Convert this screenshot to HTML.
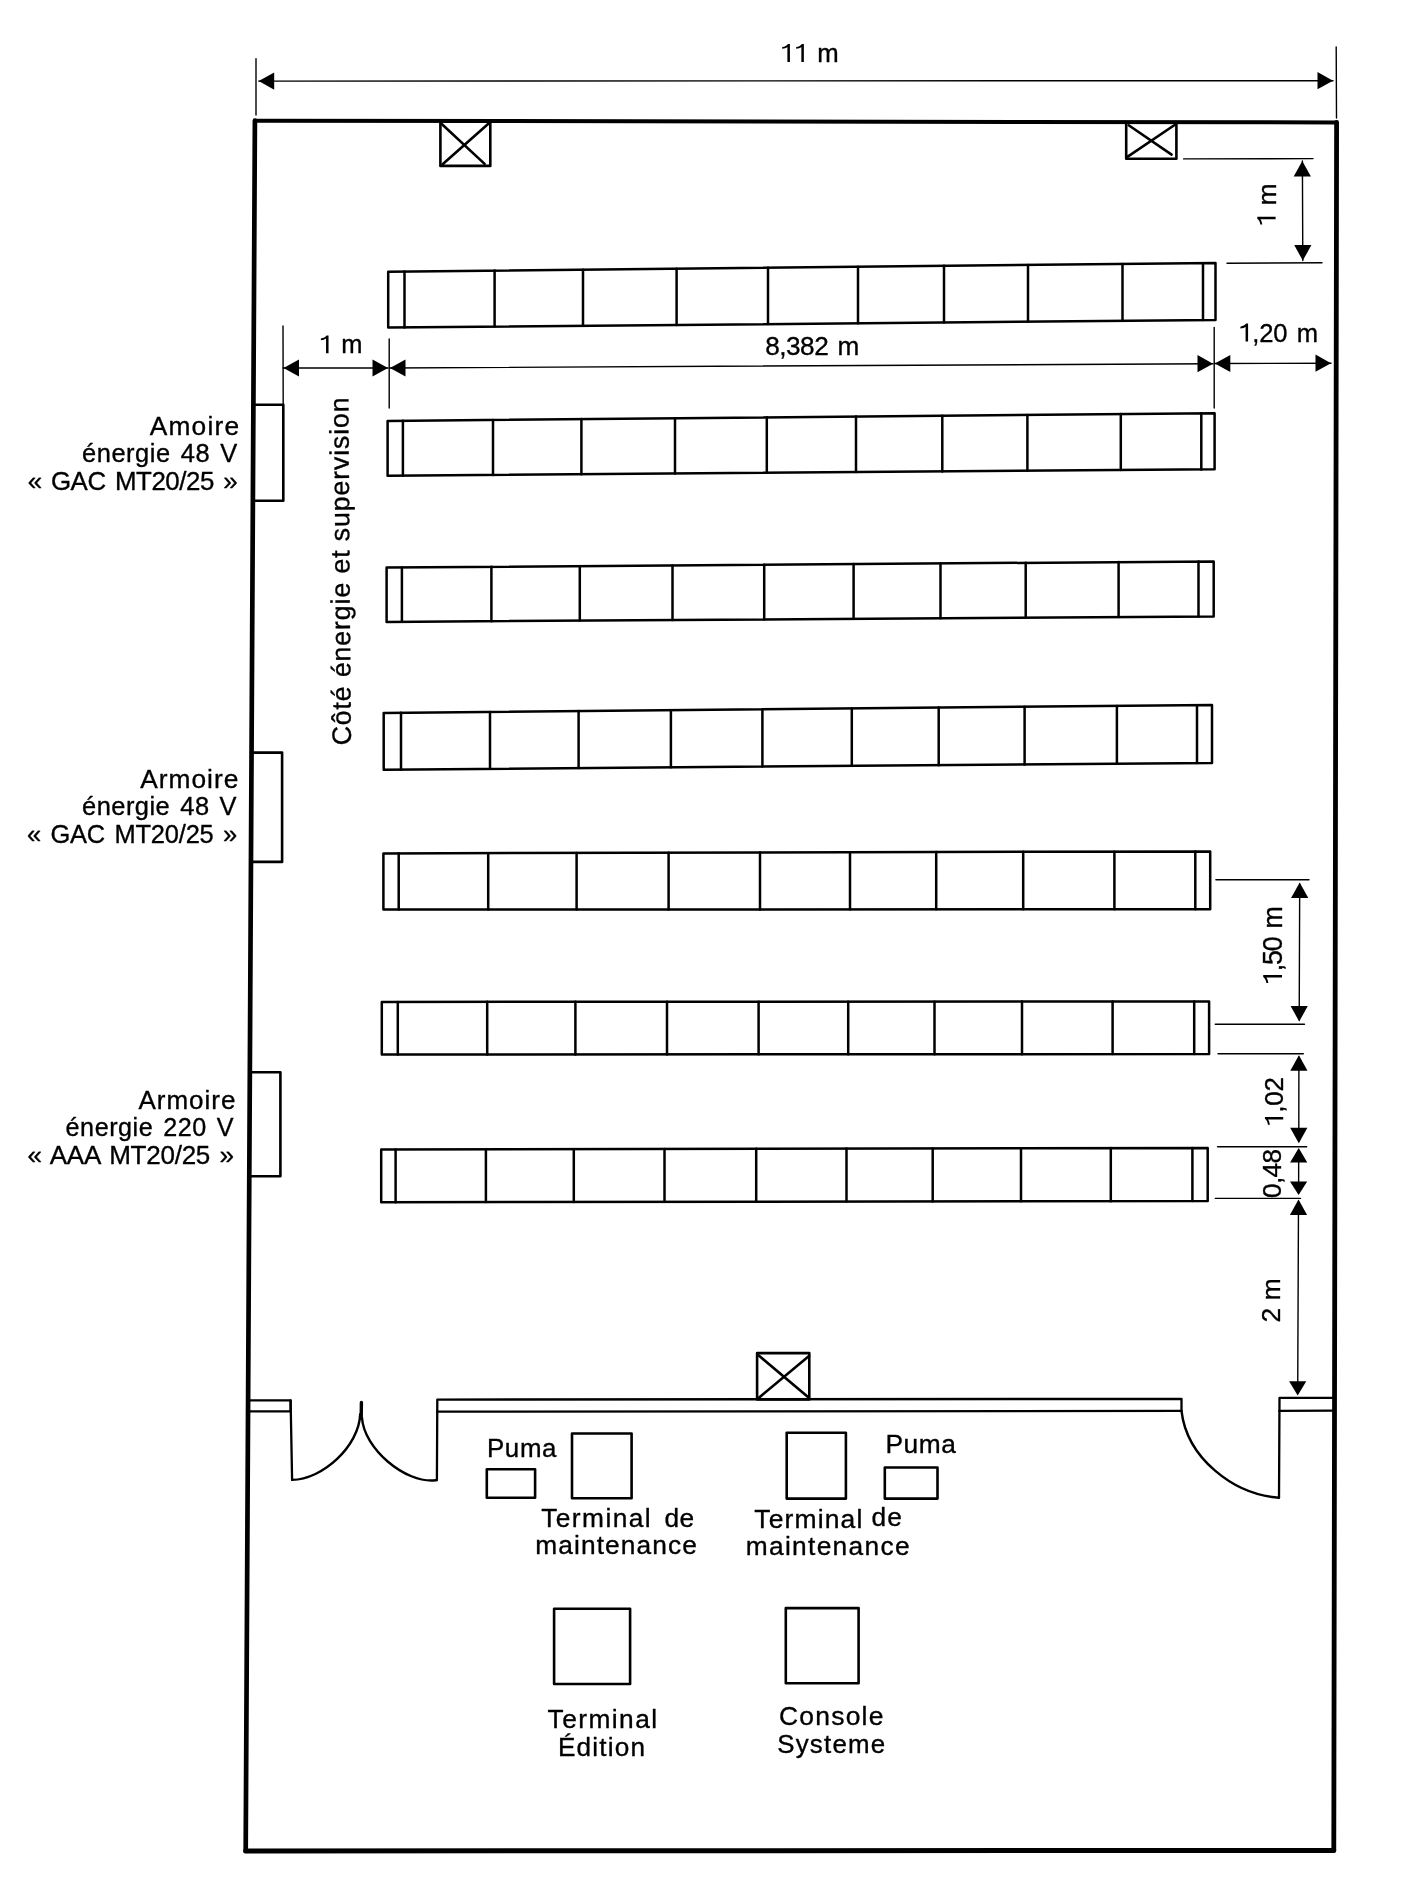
<!DOCTYPE html>
<html><head><meta charset="utf-8"><title>Plan de salle</title>
<style>html,body{margin:0;padding:0;background:#fff;} body{width:1409px;height:1899px;overflow:hidden;font-family:"Liberation Sans",sans-serif;} svg{display:block;} text{fill:#000;stroke:#000;stroke-width:0.35px;} svg{will-change:transform;}</style>
</head><body>
<svg width="1409" height="1899" viewBox="0 0 1409 1899" stroke="#000" stroke-linecap="round" stroke-linejoin="round">
<line x1="254.90" y1="120.70" x2="1336.60" y2="122.40" stroke-width="4.0"/>
<line x1="1336.60" y1="122.40" x2="1333.80" y2="1850.50" stroke-width="4.8"/>
<line x1="1333.80" y1="1850.50" x2="245.70" y2="1850.90" stroke-width="5.0"/>
<line x1="245.70" y1="1850.90" x2="254.90" y2="120.70" stroke-width="4.7"/>
<polygon points="388.20,271.70 1215.50,263.00 1215.50,320.00 388.20,327.60" fill="none" stroke-width="2.5"/>
<line x1="404.50" y1="271.53" x2="404.50" y2="327.45" stroke-width="2.5"/>
<line x1="494.60" y1="270.58" x2="494.60" y2="326.62" stroke-width="2.5"/>
<line x1="583.00" y1="269.65" x2="583.00" y2="325.81" stroke-width="2.5"/>
<line x1="676.60" y1="268.67" x2="676.60" y2="324.95" stroke-width="2.5"/>
<line x1="768.00" y1="267.71" x2="768.00" y2="324.11" stroke-width="2.5"/>
<line x1="858.00" y1="266.76" x2="858.00" y2="323.28" stroke-width="2.5"/>
<line x1="944.00" y1="265.86" x2="944.00" y2="322.49" stroke-width="2.5"/>
<line x1="1028.00" y1="264.97" x2="1028.00" y2="321.72" stroke-width="2.5"/>
<line x1="1122.50" y1="263.98" x2="1122.50" y2="320.85" stroke-width="2.5"/>
<line x1="1203.00" y1="263.13" x2="1203.00" y2="320.11" stroke-width="2.5"/>
<polygon points="387.60,420.90 1214.60,413.20 1214.60,469.30 387.60,475.80" fill="none" stroke-width="2.5"/>
<line x1="402.90" y1="420.76" x2="402.90" y2="475.68" stroke-width="2.5"/>
<line x1="493.00" y1="419.92" x2="493.00" y2="474.97" stroke-width="2.5"/>
<line x1="581.40" y1="419.10" x2="581.40" y2="474.28" stroke-width="2.5"/>
<line x1="675.00" y1="418.22" x2="675.00" y2="473.54" stroke-width="2.5"/>
<line x1="766.80" y1="417.37" x2="766.80" y2="472.82" stroke-width="2.5"/>
<line x1="856.00" y1="416.54" x2="856.00" y2="472.12" stroke-width="2.5"/>
<line x1="942.30" y1="415.74" x2="942.30" y2="471.44" stroke-width="2.5"/>
<line x1="1027.40" y1="414.94" x2="1027.40" y2="470.77" stroke-width="2.5"/>
<line x1="1120.80" y1="414.07" x2="1120.80" y2="470.04" stroke-width="2.5"/>
<line x1="1201.30" y1="413.32" x2="1201.30" y2="469.40" stroke-width="2.5"/>
<polygon points="386.60,567.60 1213.70,561.40 1213.70,616.40 386.60,621.90" fill="none" stroke-width="2.5"/>
<line x1="401.90" y1="567.49" x2="401.90" y2="621.80" stroke-width="2.5"/>
<line x1="491.40" y1="566.81" x2="491.40" y2="621.20" stroke-width="2.5"/>
<line x1="579.80" y1="566.15" x2="579.80" y2="620.62" stroke-width="2.5"/>
<line x1="672.50" y1="565.46" x2="672.50" y2="620.00" stroke-width="2.5"/>
<line x1="764.20" y1="564.77" x2="764.20" y2="619.39" stroke-width="2.5"/>
<line x1="853.60" y1="564.10" x2="853.60" y2="618.79" stroke-width="2.5"/>
<line x1="940.50" y1="563.45" x2="940.50" y2="618.22" stroke-width="2.5"/>
<line x1="1025.70" y1="562.81" x2="1025.70" y2="617.65" stroke-width="2.5"/>
<line x1="1118.60" y1="562.11" x2="1118.60" y2="617.03" stroke-width="2.5"/>
<line x1="1198.50" y1="561.51" x2="1198.50" y2="616.50" stroke-width="2.5"/>
<polygon points="383.70,712.90 1212.00,705.00 1212.00,762.90 383.70,769.70" fill="none" stroke-width="2.5"/>
<line x1="401.00" y1="712.73" x2="401.00" y2="769.56" stroke-width="2.5"/>
<line x1="490.00" y1="711.89" x2="490.00" y2="768.83" stroke-width="2.5"/>
<line x1="578.60" y1="711.04" x2="578.60" y2="768.10" stroke-width="2.5"/>
<line x1="670.90" y1="710.16" x2="670.90" y2="767.34" stroke-width="2.5"/>
<line x1="762.40" y1="709.29" x2="762.40" y2="766.59" stroke-width="2.5"/>
<line x1="851.80" y1="708.44" x2="851.80" y2="765.86" stroke-width="2.5"/>
<line x1="938.70" y1="707.61" x2="938.70" y2="765.14" stroke-width="2.5"/>
<line x1="1024.60" y1="706.79" x2="1024.60" y2="764.44" stroke-width="2.5"/>
<line x1="1116.90" y1="705.91" x2="1116.90" y2="763.68" stroke-width="2.5"/>
<line x1="1197.00" y1="705.14" x2="1197.00" y2="763.02" stroke-width="2.5"/>
<polygon points="383.40,853.40 1210.20,851.40 1210.20,909.20 383.40,909.60" fill="none" stroke-width="2.5"/>
<line x1="398.70" y1="853.36" x2="398.70" y2="909.59" stroke-width="2.5"/>
<line x1="488.20" y1="853.15" x2="488.20" y2="909.55" stroke-width="2.5"/>
<line x1="576.60" y1="852.93" x2="576.60" y2="909.51" stroke-width="2.5"/>
<line x1="668.60" y1="852.71" x2="668.60" y2="909.46" stroke-width="2.5"/>
<line x1="760.00" y1="852.49" x2="760.00" y2="909.42" stroke-width="2.5"/>
<line x1="850.00" y1="852.27" x2="850.00" y2="909.37" stroke-width="2.5"/>
<line x1="936.20" y1="852.06" x2="936.20" y2="909.33" stroke-width="2.5"/>
<line x1="1023.20" y1="851.85" x2="1023.20" y2="909.29" stroke-width="2.5"/>
<line x1="1114.40" y1="851.63" x2="1114.40" y2="909.25" stroke-width="2.5"/>
<line x1="1195.30" y1="851.44" x2="1195.30" y2="909.21" stroke-width="2.5"/>
<polygon points="381.80,1001.90 1209.10,1001.50 1209.10,1054.00 381.80,1054.60" fill="none" stroke-width="2.5"/>
<line x1="397.80" y1="1001.89" x2="397.80" y2="1054.59" stroke-width="2.5"/>
<line x1="487.20" y1="1001.85" x2="487.20" y2="1054.52" stroke-width="2.5"/>
<line x1="575.40" y1="1001.81" x2="575.40" y2="1054.46" stroke-width="2.5"/>
<line x1="667.00" y1="1001.76" x2="667.00" y2="1054.39" stroke-width="2.5"/>
<line x1="758.60" y1="1001.72" x2="758.60" y2="1054.33" stroke-width="2.5"/>
<line x1="848.20" y1="1001.67" x2="848.20" y2="1054.26" stroke-width="2.5"/>
<line x1="934.50" y1="1001.63" x2="934.50" y2="1054.20" stroke-width="2.5"/>
<line x1="1022.00" y1="1001.59" x2="1022.00" y2="1054.14" stroke-width="2.5"/>
<line x1="1112.60" y1="1001.55" x2="1112.60" y2="1054.07" stroke-width="2.5"/>
<line x1="1194.20" y1="1001.51" x2="1194.20" y2="1054.01" stroke-width="2.5"/>
<polygon points="381.20,1149.50 1207.70,1147.90 1207.70,1201.10 381.20,1202.20" fill="none" stroke-width="2.5"/>
<line x1="395.60" y1="1149.47" x2="395.60" y2="1202.18" stroke-width="2.5"/>
<line x1="485.90" y1="1149.30" x2="485.90" y2="1202.06" stroke-width="2.5"/>
<line x1="573.80" y1="1149.13" x2="573.80" y2="1201.94" stroke-width="2.5"/>
<line x1="664.50" y1="1148.95" x2="664.50" y2="1201.82" stroke-width="2.5"/>
<line x1="756.20" y1="1148.77" x2="756.20" y2="1201.70" stroke-width="2.5"/>
<line x1="846.50" y1="1148.60" x2="846.50" y2="1201.58" stroke-width="2.5"/>
<line x1="932.70" y1="1148.43" x2="932.70" y2="1201.47" stroke-width="2.5"/>
<line x1="1021.00" y1="1148.26" x2="1021.00" y2="1201.35" stroke-width="2.5"/>
<line x1="1110.80" y1="1148.09" x2="1110.80" y2="1201.23" stroke-width="2.5"/>
<line x1="1192.40" y1="1147.93" x2="1192.40" y2="1201.12" stroke-width="2.5"/>
<polygon points="440.40,121.40 490.30,121.40 490.30,165.90 440.40,165.90" fill="none" stroke-width="2.6"/>
<line x1="442.00" y1="124.20" x2="484.60" y2="163.90" stroke-width="2.6"/>
<line x1="442.60" y1="164.20" x2="489.20" y2="123.00" stroke-width="2.6"/>
<polygon points="1126.20,122.20 1176.40,122.20 1176.40,158.80 1126.20,158.80" fill="none" stroke-width="2.6"/>
<line x1="1128.70" y1="125.30" x2="1171.60" y2="154.60" stroke-width="2.6"/>
<line x1="1127.00" y1="157.10" x2="1175.30" y2="124.50" stroke-width="2.6"/>
<polygon points="757.10,1353.10 809.30,1353.10 809.30,1399.40 757.10,1399.40" fill="none" stroke-width="2.6"/>
<line x1="758.50" y1="1355.30" x2="808.60" y2="1397.50" stroke-width="2.6"/>
<line x1="759.20" y1="1397.50" x2="809.00" y2="1356.00" stroke-width="2.6"/>
<polyline points="253.39,404.70 283.30,404.70 283.30,500.70 252.88,500.70" fill="none" stroke-width="2.6"/>
<polyline points="251.54,752.60 282.10,752.60 282.10,861.90 250.96,861.90" fill="none" stroke-width="2.6"/>
<polyline points="249.84,1072.30 280.40,1072.30 280.40,1176.20 249.29,1176.20" fill="none" stroke-width="2.6"/>
<polygon points="486.80,1469.30 535.10,1469.30 535.10,1497.70 486.80,1497.70" fill="none" stroke-width="2.6"/>
<polygon points="572.00,1433.50 631.60,1433.50 631.60,1498.20 572.00,1498.20" fill="none" stroke-width="2.6"/>
<polygon points="786.70,1432.80 845.90,1432.80 845.90,1498.60 786.70,1498.60" fill="none" stroke-width="2.6"/>
<polygon points="884.80,1467.50 937.50,1467.50 937.50,1498.60 884.80,1498.60" fill="none" stroke-width="2.6"/>
<polygon points="554.10,1608.80 630.10,1608.80 630.10,1684.00 554.10,1684.00" fill="none" stroke-width="2.6"/>
<polygon points="785.80,1608.10 858.60,1608.10 858.60,1683.30 785.80,1683.30" fill="none" stroke-width="2.6"/>
<polyline points="249.30,1400.30 290.60,1400.30 290.60,1411.30" fill="none" stroke-width="2.3"/>
<line x1="249.30" y1="1411.30" x2="290.60" y2="1411.30" stroke-width="2.3"/>
<line x1="290.60" y1="1400.30" x2="292.10" y2="1479.90" stroke-width="2.3"/>
<polyline points="436.90,1480.30 437.30,1399.60 1181.50,1398.80 1181.50,1410.90" fill="none" stroke-width="2.3"/>
<line x1="437.10" y1="1411.60" x2="1181.50" y2="1410.90" stroke-width="2.3"/>
<polyline points="1279.00,1497.70 1279.50,1397.90 1334.00,1397.90" fill="none" stroke-width="2.3"/>
<line x1="1279.30" y1="1410.90" x2="1334.00" y2="1410.70" stroke-width="2.3"/>
<path d="M292.1,1479.9 C322.5,1479.6 359.1,1446.2 360.2,1414.1" fill="none" stroke-width="2.4"/>
<path d="M362.0,1417.8 C363.7,1448.2 405.0,1483.7 435.6,1480.3" fill="none" stroke-width="2.4"/>
<line x1="361.40" y1="1402.50" x2="361.20" y2="1418.00" stroke-width="3.4"/>
<path d="M1181.5,1411.0 C1187.0,1457.8 1233.0,1494.5 1279.0,1497.7" fill="none" stroke-width="2.4"/>
<line x1="256.00" y1="58.70" x2="256.00" y2="115.00" stroke-width="1.4"/>
<line x1="1336.20" y1="47.00" x2="1336.50" y2="118.00" stroke-width="1.4"/>
<line x1="258.70" y1="81.10" x2="1333.00" y2="80.70" stroke-width="1.4"/>
<polygon points="258.70,81.10 274.20,72.50 274.20,89.70" stroke="none" fill="#000"/>
<polygon points="1333.00,80.70 1317.50,89.30 1317.50,72.10" stroke="none" fill="#000"/>
<line x1="1183.60" y1="158.90" x2="1313.00" y2="158.60" stroke-width="1.4"/>
<line x1="1302.40" y1="161.00" x2="1302.80" y2="260.50" stroke-width="1.4"/>
<polygon points="1302.30,161.00 1310.90,176.50 1293.70,176.50" stroke="none" fill="#000"/>
<polygon points="1302.80,260.60 1294.20,245.10 1311.40,245.10" stroke="none" fill="#000"/>
<line x1="1227.00" y1="263.20" x2="1322.00" y2="262.80" stroke-width="1.4"/>
<line x1="283.00" y1="326.00" x2="283.20" y2="404.50" stroke-width="1.4"/>
<line x1="283.00" y1="368.00" x2="388.00" y2="368.00" stroke-width="1.4"/>
<polygon points="283.50,368.00 299.00,359.40 299.00,376.60" stroke="none" fill="#000"/>
<polygon points="388.00,368.00 372.50,376.60 372.50,359.40" stroke="none" fill="#000"/>
<line x1="389.20" y1="339.00" x2="389.20" y2="408.00" stroke-width="1.4"/>
<line x1="390.00" y1="368.00" x2="1213.00" y2="363.70" stroke-width="1.4"/>
<polygon points="390.00,368.00 405.50,359.40 405.50,376.60" stroke="none" fill="#000"/>
<polygon points="1213.00,363.70 1197.50,372.30 1197.50,355.10" stroke="none" fill="#000"/>
<line x1="1214.20" y1="327.50" x2="1214.20" y2="408.00" stroke-width="1.4"/>
<line x1="1214.50" y1="363.50" x2="1331.00" y2="363.20" stroke-width="1.4"/>
<polygon points="1214.80,363.50 1230.30,354.90 1230.30,372.10" stroke="none" fill="#000"/>
<polygon points="1331.00,363.20 1315.50,371.80 1315.50,354.60" stroke="none" fill="#000"/>
<line x1="1215.90" y1="879.80" x2="1309.00" y2="879.80" stroke-width="1.4"/>
<line x1="1299.70" y1="884.00" x2="1299.20" y2="1020.00" stroke-width="1.4"/>
<line x1="1298.90" y1="1057.00" x2="1298.80" y2="1141.00" stroke-width="1.4"/>
<line x1="1298.70" y1="1150.00" x2="1298.60" y2="1193.00" stroke-width="1.4"/>
<line x1="1298.50" y1="1201.00" x2="1297.70" y2="1393.00" stroke-width="1.4"/>
<polygon points="1299.70,882.40 1308.30,897.90 1291.10,897.90" stroke="none" fill="#000"/>
<polygon points="1299.20,1021.50 1290.60,1006.00 1307.80,1006.00" stroke="none" fill="#000"/>
<line x1="1215.30" y1="1024.30" x2="1304.50" y2="1024.30" stroke-width="1.4"/>
<line x1="1218.00" y1="1053.70" x2="1303.30" y2="1053.70" stroke-width="1.4"/>
<polygon points="1298.90,1055.30 1307.50,1070.80 1290.30,1070.80" stroke="none" fill="#000"/>
<polygon points="1298.80,1143.30 1290.20,1127.80 1307.40,1127.80" stroke="none" fill="#000"/>
<line x1="1217.60" y1="1146.70" x2="1306.70" y2="1146.70" stroke-width="1.4"/>
<polygon points="1298.70,1147.90 1307.30,1162.60 1290.10,1162.60" stroke="none" fill="#000"/>
<polygon points="1298.60,1195.00 1290.00,1181.40 1307.20,1181.40" stroke="none" fill="#000"/>
<line x1="1215.30" y1="1198.40" x2="1300.50" y2="1198.40" stroke-width="1.4"/>
<polygon points="1298.50,1199.50 1307.10,1215.00 1289.90,1215.00" stroke="none" fill="#000"/>
<polygon points="1297.70,1395.40 1289.10,1381.20 1306.30,1381.20" stroke="none" fill="#000"/>
<g transform="translate(780.01,62.00)"><text font-family="Liberation Sans, sans-serif" font-size="25.73" letter-spacing="-0.359" word-spacing="2.5">   m</text><path d="M0.385,0 L0.385,-0.703 L0.310,-0.703 C0.270,-0.640 0.185,-0.600 0.085,-0.585 L0.085,-0.512 C0.170,-0.522 0.240,-0.548 0.287,-0.583 L0.287,0 Z" transform="translate(0.00,0) scale(25.73)" stroke="none"/><path d="M0.385,0 L0.385,-0.703 L0.310,-0.703 C0.270,-0.640 0.185,-0.600 0.085,-0.585 L0.085,-0.512 C0.170,-0.522 0.240,-0.548 0.287,-0.583 L0.287,0 Z" transform="translate(13.95,0) scale(25.73)" stroke="none"/></g>
<g transform="translate(318.74,353.30)"><text font-family="Liberation Sans, sans-serif" font-size="25.44" letter-spacing="-0.612" word-spacing="2.5">  m</text><path d="M0.385,0 L0.385,-0.703 L0.310,-0.703 C0.270,-0.640 0.185,-0.600 0.085,-0.585 L0.085,-0.512 C0.170,-0.522 0.240,-0.548 0.287,-0.583 L0.287,0 Z" transform="translate(0.00,0) scale(25.44)" stroke="none"/></g>
<g transform="translate(765.18,355.00)"><text font-family="Liberation Sans, sans-serif" font-size="26.16" letter-spacing="-0.477" word-spacing="2.5">8,382 m</text></g>
<g transform="translate(1238.23,341.60)"><text font-family="Liberation Sans, sans-serif" font-size="25.58" letter-spacing="-0.181" word-spacing="2.5"> ,20 m</text><path d="M0.385,0 L0.385,-0.703 L0.310,-0.703 C0.270,-0.640 0.185,-0.600 0.085,-0.585 L0.085,-0.512 C0.170,-0.522 0.240,-0.548 0.287,-0.583 L0.287,0 Z" transform="translate(0.00,0) scale(25.58)" stroke="none"/></g>
<g transform="translate(149.70,434.70)"><text font-family="Liberation Sans, sans-serif" font-size="26.31" letter-spacing="1.207" word-spacing="0">Amoire</text></g>
<g transform="translate(82.01,462.40)"><text font-family="Liberation Sans, sans-serif" font-size="25.44" letter-spacing="0.539" word-spacing="2.5">énergie 48 V</text></g>
<g transform="translate(27.69,490.10)"><text font-family="Liberation Sans, sans-serif" font-size="25.87" letter-spacing="-0.425" word-spacing="2.5">« GAC MT20/25 »</text></g>
<g transform="translate(140.20,787.60)"><text font-family="Liberation Sans, sans-serif" font-size="26.31" letter-spacing="1.012" word-spacing="0">Armoire</text></g>
<g transform="translate(82.01,815.40)"><text font-family="Liberation Sans, sans-serif" font-size="25.44" letter-spacing="0.484" word-spacing="2.5">énergie 48 V</text></g>
<g transform="translate(27.01,843.10)"><text font-family="Liberation Sans, sans-serif" font-size="25.44" letter-spacing="-0.169" word-spacing="2.5">« GAC MT20/25 »</text></g>
<g transform="translate(138.50,1108.90)"><text font-family="Liberation Sans, sans-serif" font-size="26.02" letter-spacing="0.963" word-spacing="0">Armoire</text></g>
<g transform="translate(65.61,1135.70)"><text font-family="Liberation Sans, sans-serif" font-size="25.15" letter-spacing="0.532" word-spacing="2.5">énergie 220 V</text></g>
<g transform="translate(27.49,1163.80)"><text font-family="Liberation Sans, sans-serif" font-size="26.02" letter-spacing="-0.245" word-spacing="2.5">« AAA MT20/25 »</text></g>
<g transform="translate(486.96,1456.70)"><text font-family="Liberation Sans, sans-serif" font-size="25.87" letter-spacing="0.664" word-spacing="0">Puma</text></g>
<g transform="translate(885.44,1453.30)"><text font-family="Liberation Sans, sans-serif" font-size="26.31" letter-spacing="0.554" word-spacing="0">Puma</text></g>
<g transform="translate(541.19,1526.80)"><text font-family="Liberation Sans, sans-serif" font-size="26.31" letter-spacing="1.447" word-spacing="0">Terminal</text></g>
<g transform="translate(664.48,1526.80)"><text font-family="Liberation Sans, sans-serif" font-size="26.30" letter-spacing="0.434" word-spacing="0">de</text></g>
<g transform="translate(535.16,1554.00)"><text font-family="Liberation Sans, sans-serif" font-size="26.30" letter-spacing="1.126" word-spacing="0">maintenance</text></g>
<g transform="translate(754.29,1527.50)"><text font-family="Liberation Sans, sans-serif" font-size="26.45" letter-spacing="1.165" word-spacing="0">Terminal</text></g>
<g transform="translate(871.48,1525.70)"><text font-family="Liberation Sans, sans-serif" font-size="26.30" letter-spacing="1.034" word-spacing="0">de</text></g>
<g transform="translate(745.76,1555.20)"><text font-family="Liberation Sans, sans-serif" font-size="26.30" letter-spacing="1.321" word-spacing="0">maintenance</text></g>
<g transform="translate(547.59,1727.70)"><text font-family="Liberation Sans, sans-serif" font-size="26.31" letter-spacing="1.447" word-spacing="0">Terminal</text></g>
<g transform="translate(557.96,1755.60)"><text font-family="Liberation Sans, sans-serif" font-size="26.16" letter-spacing="1.175" word-spacing="0">Édition</text></g>
<g transform="translate(778.96,1725.30)"><text font-family="Liberation Sans, sans-serif" font-size="26.45" letter-spacing="1.243" word-spacing="0">Console</text></g>
<g transform="translate(777.29,1753.40)"><text font-family="Liberation Sans, sans-serif" font-size="25.87" letter-spacing="1.202" word-spacing="0">Systeme</text></g>
<g transform="translate(1275.60,226.81) rotate(-90)"><text font-family="Liberation Sans, sans-serif" font-size="26.02" letter-spacing="-1.256" word-spacing="2.5">  m</text><path d="M0.385,0 L0.385,-0.703 L0.310,-0.703 C0.270,-0.640 0.185,-0.600 0.085,-0.585 L0.085,-0.512 C0.170,-0.522 0.240,-0.548 0.287,-0.583 L0.287,0 Z" transform="translate(0.00,0) scale(26.02)" stroke="none"/></g>
<g transform="translate(1282.00,985.17) rotate(-90)"><text font-family="Liberation Sans, sans-serif" font-size="26.74" letter-spacing="-1.061" word-spacing="2.5"> ,50 m</text><path d="M0.385,0 L0.385,-0.703 L0.310,-0.703 C0.270,-0.640 0.185,-0.600 0.085,-0.585 L0.085,-0.512 C0.170,-0.522 0.240,-0.548 0.287,-0.583 L0.287,0 Z" transform="translate(0.00,0) scale(26.74)" stroke="none"/></g>
<g transform="translate(1283.20,1126.91) rotate(-90)"><text font-family="Liberation Sans, sans-serif" font-size="26.02" letter-spacing="-0.291" word-spacing="0"> ,02</text><path d="M0.385,0 L0.385,-0.703 L0.310,-0.703 C0.270,-0.640 0.185,-0.600 0.085,-0.585 L0.085,-0.512 C0.170,-0.522 0.240,-0.548 0.287,-0.583 L0.287,0 Z" transform="translate(0.00,0) scale(26.02)" stroke="none"/></g>
<g transform="translate(1281.00,1198.02) rotate(-90)"><text font-family="Liberation Sans, sans-serif" font-size="26.16" letter-spacing="-0.614" word-spacing="0">0,48</text></g>
<g transform="translate(1279.60,1322.53) rotate(-90)"><text font-family="Liberation Sans, sans-serif" font-size="26.31" letter-spacing="-1.130" word-spacing="2.5">2 m</text></g>
<g transform="translate(350.90,745.35) rotate(-90.43)"><text font-family="Liberation Sans, sans-serif" font-size="26.74" letter-spacing="0.866" word-spacing="0">Côté énergie et supervision</text></g>
</svg>
</body></html>
